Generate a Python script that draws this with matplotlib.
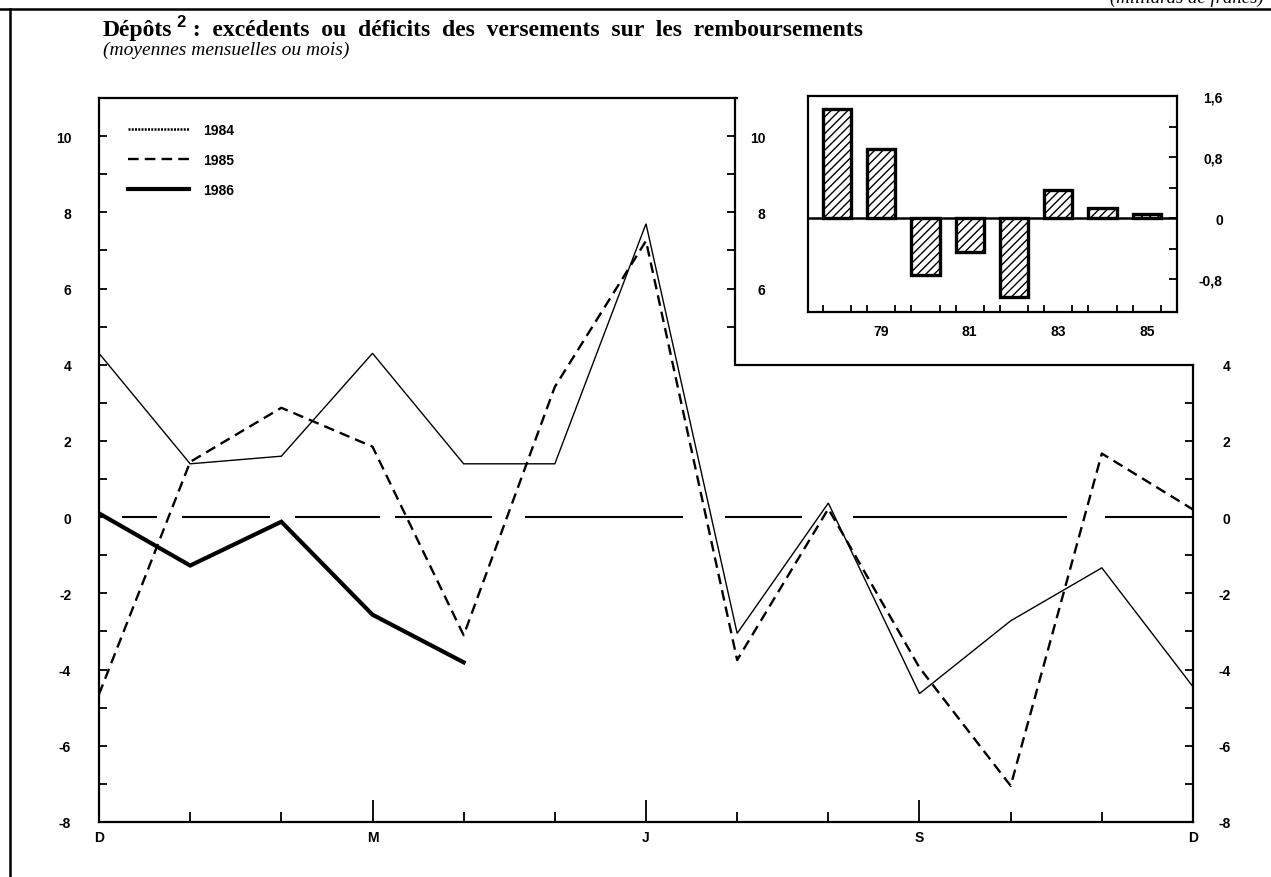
import numpy as np
import matplotlib
matplotlib.use("Agg")
import matplotlib.pyplot as plt
from matplotlib.lines import Line2D

plt.rcParams['axes.unicode_minus'] = False

# ---------------- data ----------------
months = ['D', 'J', 'F', 'M', 'A', 'M', 'J', 'J', 'A', 'S', 'O', 'N', 'D']
label_step = 3
serie_1984 = [4.3, 1.4, 1.6, 4.3, 1.4, 1.4, 7.7, -3.05, 0.37, -4.63, -2.72, -1.33, -4.45]
serie_1985 = [-4.65, 1.45, 2.87, 1.85, -3.1, 3.42, 7.25, -3.75, 0.22, -3.95, -7.05, 1.67, 0.2]
serie_1986 = [0.1, -1.27, -0.12, -2.56, -3.81]
series_labels = ['1984', '1985', '1986']

left_yticks = [-8, -6, -4, -2, 0, 2, 4, 6, 8, 10]
right_yticks = [-8, -6, -4, -2, 0, 2, 4]
mid_yticks = [6, 8, 10]

inset_years = [78, 79, 80, 81, 82, 83, 84, 85]
inset_values = [1.43, 0.91, -0.74, -0.44, -1.03, 0.37, 0.13, 0.05]
inset_xticks = [79, 81, 83, 85]
inset_xlabels = ['79', '81', '83', '85']
inset_yticks = [-0.8, 0.0, 0.8, 1.6]
inset_ylabels = ['-0,8', '0', '0,8', '1,6']

title_main = "Dépôts"
title_sup = "2"
title_rest = " :  excédents  ou  déficits  des  versements  sur  les  remboursements"
subtitle = "(moyennes mensuelles ou mois)"
corner_note = "(milliards de francs)"

# ---------------- layout ----------------
W, H = 1271, 878
fig = plt.figure(figsize=(W / 100, H / 100), dpi=100)
PX = 0.72  # points per pixel

def box(l, t, r, b):
    return [l / W, 1 - b / H, (r - l) / W, (b - t) / H]

tick_font = dict(family='Liberation Sans', weight='bold', size=10)
LW = 1.6

L, T, R, B = 99, 99, 1193, 823
ax = fig.add_axes(box(L, T, R, B))
ax.patch.set_alpha(0)
x = np.arange(len(months))
ax.set_xlim(0, len(months) - 1)
ax.set_ylim(-8, 11)

# series
ax.plot(x, serie_1984, color='k', lw=1.0, solid_joinstyle='miter')
ax.plot(x, serie_1985, color='k', lw=1.7, linestyle=(0, (4.5, 2.6)))
ax.plot(x[:len(serie_1986)], serie_1986, color='k', lw=3.0, solid_joinstyle='miter')

# irregular long-dashed zero line
dash_px = [35, 25, 88, 25, 85, 15, 97, 33, 158, 42, 77, 51, 214, 38, 90]
zl_lw = 1.5
ax.axhline(0, xmin=23 / (R - L), xmax=1, color='k', lw=zl_lw,
           linestyle=(0, tuple(d * PX / zl_lw for d in dash_px)))

# spines / notch frame
for s in ax.spines.values():
    s.set_linewidth(LW)
ax.spines['top'].set_bounds(0, 7)
ax.spines['right'].set_bounds(-8, 4)
ax.axhline(4, xmin=7 / 12, xmax=1, color='k', lw=LW, clip_on=False)

# left y axis
ax.set_yticks(left_yticks)
ax.set_yticklabels([str(v) for v in left_yticks])
ax.set_yticks(list(range(-7, 11, 2)), minor=True)
ax.tick_params(axis='y', which='both', direction='in', length=6, width=1.3,
               left=True, right=False, pad=20)
for lab in ax.get_yticklabels():
    lab.set(**tick_font)

# x axis
ax.set_xticks(x[::label_step])
ax.set_xticklabels(months[::label_step])
ax.set_xticks([i for i in x if i % label_step], minor=True)
ax.tick_params(axis='x', which='major', direction='in', length=16, width=1.3, pad=6)
ax.tick_params(axis='x', which='minor', direction='in', length=7, width=1.3)
for lab in ax.get_xticklabels():
    lab.set(**tick_font)

# right y axis
axr = ax.twinx()
axr.set_ylim(ax.get_ylim())
for s in axr.spines.values():
    s.set_visible(False)
axr.set_yticks(right_yticks)
axr.set_yticklabels([str(v) for v in right_yticks])
axr.set_yticks(list(range(-7, 4, 2)), minor=True)
axr.tick_params(axis='y', which='both', direction='in', length=6, width=1.3, pad=27)
for lab in axr.get_yticklabels():
    lab.set(**tick_font)
    lab.set_horizontalalignment('right')

# middle (notch) y axis
MX = 735
axm = fig.add_axes(box(L, T, MX, B))
axm.patch.set_alpha(0)
axm.set_ylim(ax.get_ylim())
axm.set_xticks([])
for k, s in axm.spines.items():
    s.set_visible(k == 'right')
axm.spines['right'].set_linewidth(LW)
axm.spines['right'].set_bounds(4, 11)
axm.yaxis.tick_right()
axm.set_yticks(mid_yticks)
axm.set_yticklabels([str(v) for v in mid_yticks])
axm.set_yticks([5, 7, 9], minor=True)
axm.tick_params(axis='y', which='both', direction='in', length=6, width=1.3,
                left=False, right=True, pad=22)
for lab in axm.get_yticklabels():
    lab.set(**tick_font)
    lab.set_horizontalalignment('right')

# legend
handles = [Line2D([], [], color='k', lw=1.8, linestyle=(0, (0.8, 0.5))),
           Line2D([], [], color='k', lw=1.7, linestyle=(0, (4.5, 2.6))),
           Line2D([], [], color='k', lw=3.0)]
leg = ax.legend(handles, series_labels, loc='upper left',
                bbox_to_anchor=((128 - L) / (R - L), (B - 124) / (B - T)),
                frameon=False, handlelength=4.4, handletextpad=1.0,
                labelspacing=1.15, borderpad=0, borderaxespad=0,
                prop=dict(family='Liberation Sans', weight='bold', size=10))

# ---------------- inset bar chart ----------------
axi = fig.add_axes(box(808, 97, 1177, 313))
axi.bar(inset_years, inset_values, width=0.64, color='white', edgecolor='k',
        linewidth=2.4, hatch='////')
axi.set_xlim(77.35, 85.68)
axi.set_ylim(-1.23, 1.6)
axi.axhline(0, color='k', lw=1.8)
for s in axi.spines.values():
    s.set_linewidth(LW)
axi.set_xticks(inset_xticks)
axi.set_xticklabels(inset_xlabels)
edges = []
for yv in inset_years:
    edges += [yv - 0.32, yv + 0.32]
axi.set_xticks(edges, minor=True)
axi.tick_params(axis='x', which='major', length=0, pad=9)
axi.tick_params(axis='x', which='minor', direction='in', length=5, width=1.3)
axi.yaxis.tick_right()
axi.set_yticks(inset_yticks)
axi.set_yticklabels(inset_ylabels)
axi.set_yticks([-0.4, 0.4, 1.2], minor=True)
axi.tick_params(axis='y', which='both', direction='in', length=6, width=1.3,
                left=False, right=True, pad=33)
for lab in axi.get_yticklabels():
    lab.set(**tick_font)
    lab.set_horizontalalignment('right')
for lab in axi.get_xticklabels():
    lab.set(**tick_font)

# ---------------- titles and frame ----------------
t1 = fig.text(103 / W, 1 - 36 / H, title_main, family='Liberation Serif',
              weight='bold', size=17, va='baseline', ha='left')
t2 = fig.text(0, 0, title_sup, family='Liberation Sans', weight='bold', size=12)
t3 = fig.text(0, 0, title_rest, family='Liberation Serif', weight='bold', size=17)
fig.canvas.draw()
r = fig.canvas.get_renderer()
bb1 = t1.get_window_extent(r)
t2.set_position(((bb1.x1 + 4) / W, 1 - 27 / H))
t2.set_va('baseline')
bb2 = t2.get_window_extent(r)
t3.set_position(((bb2.x1 + 1) / W, 1 - 36 / H))
t3.set_va('baseline')

fig.text(103 / W, 1 - 55 / H, subtitle, family='Liberation Serif',
         style='italic', size=14, va='baseline', ha='left')
fig.text(1110 / W, 1 - 3 / H, corner_note, family='Liberation Serif',
         style='italic', size=13.5, va='baseline', ha='left')

fig.add_artist(Line2D([0, 1], [1 - 10 / H, 1 - 10 / H], color='k', lw=1.8,
                      transform=fig.transFigure))
fig.add_artist(Line2D([10 / W, 10 / W], [0, 1 - 10 / H], color='k', lw=1.8,
                      transform=fig.transFigure))

fig.savefig('out.png', dpi=100)
